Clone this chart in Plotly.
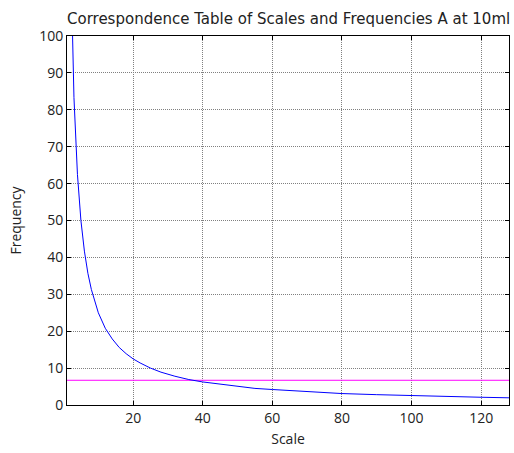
import plotly.graph_objects as go

# Wavelet scale vs. pseudo-frequency
scales = [2, 2.5, 3, 4, 5, 6, 7, 8, 9, 10, 12, 14, 16, 18, 20, 22, 25, 28, 32, 36,
          40, 45, 50, 55, 60, 70, 80, 90, 100, 110, 120, 128]
freqs = [125, 100, 83.3, 62.5, 50, 41.7, 35.7, 31.3, 27.8, 25, 20.8, 17.9, 15.6, 13.9,
         12.5, 11.4, 10, 8.9, 7.8, 6.9, 6.25, 5.6, 5, 4.5, 4.2, 3.6, 3.1, 2.8, 2.5,
         2.3, 2.1, 1.95]

# Reference frequency level
ref_level = 6.7
x_range = [1, 128]

x_ticks = [20, 40, 60, 80, 100, 120]
y_ticks = [0, 10, 20, 30, 40, 50, 60, 70, 80, 90, 100]

font = "Open Sans, Liberation Sans, sans-serif"
title_font = "DejaVu Sans, sans-serif"

fig = go.Figure()
fig.add_trace(go.Scatter(x=x_range, y=[ref_level, ref_level], mode="lines",
                         line=dict(color="#ff00ff", width=1), hoverinfo="skip"))
fig.add_trace(go.Scatter(x=scales, y=freqs, mode="lines",
                         line=dict(color="#0000ff", width=1)))

axis_common = dict(
    showline=True, linecolor="black", linewidth=1, mirror="ticks",
    ticks="inside", ticklen=4, tickcolor="black",
    showgrid=True, gridcolor="#808080", griddash="1px,1px", gridwidth=1,
    zeroline=False, tickfont=dict(family=font, size=14, color="#222222"),
)

fig.update_layout(
    width=514, height=453,
    margin=dict(l=67, r=5, t=36, b=48),
    paper_bgcolor="white", plot_bgcolor="white",
    showlegend=False,
    title=dict(text="Correspondence Table of Scales and Frequencies A at 10ml",
               x=0, xanchor="left", xref="paper", y=1 - 19 / 453, yanchor="middle",
               font=dict(family=title_font, size=15, color="#222222")),
    xaxis=dict(range=x_range, tickvals=x_ticks,
               title=dict(text="Scale", font=dict(family=font, size=14, color="#222222"),
                          standoff=8),
               **axis_common),
    yaxis=dict(range=[0, 100], tickvals=y_ticks,
               title=dict(text="Frequency", font=dict(family=font, size=14, color="#222222"),
                          standoff=14),
               **axis_common),
)

fig.write_html("out.html")
